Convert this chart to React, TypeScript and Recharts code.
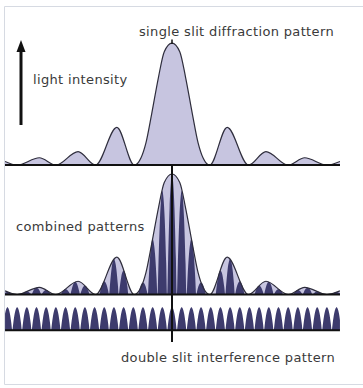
import { ComposedChart, Area, Line, XAxis, YAxis, ReferenceLine } from 'recharts';
import type { ReactNode } from 'react';

// diffraction envelope, x in fringe spacings from the centre, y relative to the central peak
const envX = [-17.25, -16, -13.7, -12, -9.7, -7.9, -5.7, -3.9, -3.2, -2.7, -2.1, -1.4, -0.8, 0, 0.8, 1.4, 2.1, 2.7, 3.2, 3.9, 5.7, 7.9, 9.7, 12, 13.7, 16, 17.35];
const envY = [0.03, 0, 0.06, 0, 0.11, 0, 0.31, 0, 0.06, 0.18, 0.42, 0.72, 0.93, 1, 0.93, 0.72, 0.42, 0.18, 0.06, 0, 0.31, 0, 0.11, 0, 0.06, 0, 0.03];

// interference fringe orders and the combined peak height of each one
const fringeOrders = [-17, -16, -15, -14, -13, -12, -11, -10, -9, -8, -7, -6, -5, -4, -3, -2, -1, 0, 1, 2, 3, 4, 5, 6, 7, 8, 9, 10, 11, 12, 13, 14, 15, 16, 17];
const combinedPeaks = [0.02, 0, 0.024, 0.057, 0.038, 0, 0.044, 0.105, 0.073, 0, 0.11, 0.295, 0.2, 0, 0.1, 0.46, 0.86, 1, 0.86, 0.46, 0.1, 0, 0.2, 0.295, 0.11, 0, 0.073, 0.105, 0.044, 0, 0.038, 0.057, 0.024, 0, 0.02];
const stripPeak = 1;

// shape of a single fringe (offset from its order, share of its peak)
const profileOffsets = [-0.5, -0.4, -0.25, -0.12, 0, 0.12, 0.25, 0.4];
const profileShape = [0, 0.3, 0.72, 0.93, 1, 0.93, 0.72, 0.3];

const X_DOMAIN: [number, number] = [-17.25, 17.35];
const Y_MAX = 1.05;
const X_LEFT = 5;
const PLOT_W = 335;
const PAD = 5;

const LAVENDER = '#c7c5e0';
const NAVY = '#3d3b6d';
const OUTLINE = '#2e2d3c';
const TEXT = '#3a3a3a';

type Row = { x: number; env?: number; fringe?: number };

const envRows: Row[] = envX.map((x, i) => ({ x, env: envY[i] }));

const fringeRows = (peaks: number[]): Row[] => {
  const rows: Row[] = [];
  fringeOrders.forEach((k, i) => {
    profileOffsets.forEach((off, j) => {
      rows.push({ x: k + off, fringe: peaks[i] * profileShape[j] });
    });
  });
  rows.push({ x: fringeOrders[fringeOrders.length - 1] + 0.5, fringe: 0 });
  return rows;
};

const topData = envRows;
const combinedData = [...envRows, ...fringeRows(combinedPeaks)].sort((a, b) => a.x - b.x);
const stripData = fringeRows(fringeOrders.map(() => stripPeak));

function Panel({ base, unit, data, children }: { base: number; unit: number; data: Row[]; children: ReactNode }) {
  const plotH = unit * Y_MAX;
  return (
    <div style={{ position: 'absolute', left: X_LEFT, top: base - plotH - PAD }}>
      <ComposedChart
        width={PLOT_W}
        height={plotH + PAD * 2}
        data={data}
        margin={{ top: PAD, bottom: PAD, left: 0, right: 0 }}
      >
        <XAxis type="number" dataKey="x" domain={X_DOMAIN} allowDataOverflow hide />
        <YAxis type="number" domain={[0, Y_MAX]} allowDataOverflow hide />
        {children}
        <ReferenceLine y={0} stroke="#111" strokeWidth={2} />
      </ComposedChart>
    </div>
  );
}

export default function App() {
  const font = { fontFamily: 'DejaVu Sans', fontSize: 13, fill: TEXT, letterSpacing: 0.35 };
  return (
    <div style={{ position: 'fixed', left: 0, top: 0, width: 363, height: 388, background: '#fff', overflow: 'hidden' }}>
      <Panel base={165} unit={122} data={topData}>
        <Area type="monotone" dataKey="env" fill={LAVENDER} fillOpacity={1} stroke={OUTLINE} strokeWidth={1.2} connectNulls isAnimationActive={false} />
      </Panel>

      <Panel base={294.5} unit={120.5} data={combinedData}>
        <Area type="monotone" dataKey="env" fill={LAVENDER} fillOpacity={1} stroke="none" connectNulls isAnimationActive={false} />
        <Area type="monotone" dataKey="fringe" fill={NAVY} fillOpacity={1} stroke="none" connectNulls isAnimationActive={false} />
        <Line type="monotone" dataKey="env" stroke={OUTLINE} strokeWidth={1.2} dot={false} activeDot={false} connectNulls isAnimationActive={false} />
      </Panel>

      <Panel base={330} unit={23} data={stripData}>
        <Area type="monotone" dataKey="fringe" fill={NAVY} fillOpacity={1} stroke="none" connectNulls isAnimationActive={false} />
      </Panel>

      <svg width={363} height={388} style={{ position: 'absolute', left: 0, top: 0, pointerEvents: 'none' }}>
        <path d="M363 6.5 H4.5 V384.5 H363" fill="none" stroke="#d6dae2" strokeWidth={1} />
        <line x1={21} y1={125} x2={21} y2={50} stroke="#111" strokeWidth={3} />
        <polygon points="21,40 16.5,52 25.5,52" fill="#111" />
        <line x1={172} y1={39.5} x2={172} y2={44} stroke="#111" strokeWidth={1.5} />
        <line x1={172} y1={165} x2={172} y2={342} stroke="#111" strokeWidth={2} />
        <text x={139} y={36} {...font}>single slit diffraction pattern</text>
        <text x={33} y={84} {...font}>light intensity</text>
        <text x={16} y={231} {...font}>combined patterns</text>
        <text x={121} y={362} {...font}>double slit interference pattern</text>
      </svg>
    </div>
  );
}
